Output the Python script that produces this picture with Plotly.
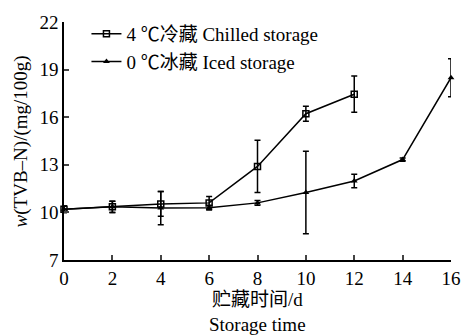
import plotly.graph_objects as go

chilled_days = [0, 2, 4, 6, 8, 10, 12]
chilled_vals = [10.2, 10.35, 10.53, 10.6, 12.9, 16.22, 17.45]
chilled_err = [0.2, 0.35, 0.78, 0.4, 1.65, 0.47, 1.14]
iced_days = [0, 2, 4, 6, 8, 10, 12, 14, 16]
iced_vals = [10.2, 10.35, 10.27, 10.3, 10.6, 11.25, 11.98, 13.33, 18.49]
iced_err = [0.2, 0.35, 1.05, 0.15, 0.15, 2.6, 0.43, 0.1, 1.2]
yticks = [7, 10, 13, 16, 19, 22]
xticks = [0, 2, 4, 6, 8, 10, 12, 14, 16]
names = ["4 ℃冷藏 Chilled storage", "0 ℃冰藏 Iced storage"]

SERIF = "Liberation Serif"
FONT = "Liberation Serif, Noto Sans CJK SC, serif"

def f(size, fam=FONT):
    return dict(family=fam, size=size, color="black")

fig = go.Figure()
fig.add_trace(go.Scatter(
    x=chilled_days, y=chilled_vals, name=names[0], mode="lines+markers",
    line=dict(color="black", width=1.5), cliponaxis=False,
    marker=dict(symbol="square-open", size=6, color="black", line=dict(width=1.5)),
    error_y=dict(type="data", array=chilled_err, color="black", thickness=1.5, width=3),
))
fig.add_trace(go.Scatter(
    x=iced_days, y=iced_vals, name=names[1], mode="lines+markers",
    line=dict(color="black", width=1.5), cliponaxis=False,
    marker=dict(symbol="triangle-up", size=6, color="black"),
    error_y=dict(type="data", array=iced_err, color="black", thickness=1.5, width=3),
))

fig.update_layout(
    width=473, height=336,
    margin=dict(l=64, r=15, t=19, b=76),
    paper_bgcolor="white", plot_bgcolor="white",
    font=f(19),
    showlegend=True,
    legend=dict(x=0.058, y=1.03, xanchor="left", yanchor="top",
                bgcolor="rgba(0,0,0,0)", font=f(19),
                itemwidth=30, tracegroupgap=0),
)
fig.update_xaxes(range=[0, 16], tickvals=xticks, ticks="inside", ticklen=5,
                 tickwidth=1.5, showline=True, linecolor="black", linewidth=1.5,
                 showgrid=False, zeroline=False, tickfont=f(19, SERIF))
fig.update_yaxes(range=[7, 22], tickvals=yticks, ticks="inside", ticklen=5,
                 tickwidth=1.5, showline=True, linecolor="black", linewidth=1.5,
                 showgrid=False, zeroline=False, tickfont=f(19, SERIF))

fig.add_annotation(text="<i>w</i>(TVB–N)/(mg/100g)", xref="paper", yref="paper",
                   x=-0.11, y=0.5, textangle=-90, showarrow=False,
                   xanchor="center", yanchor="middle", font=f(19))
fig.add_annotation(text="贮藏时间/d", xref="paper", yref="paper",
                   x=0.5, y=-0.168, showarrow=False, xanchor="center", yanchor="middle",
                   font=f(19))
fig.add_annotation(text="Storage time", xref="paper", yref="paper",
                   x=0.5, y=-0.27, showarrow=False, xanchor="center", yanchor="middle",
                   font=f(19))

fig.write_html("out.html")
